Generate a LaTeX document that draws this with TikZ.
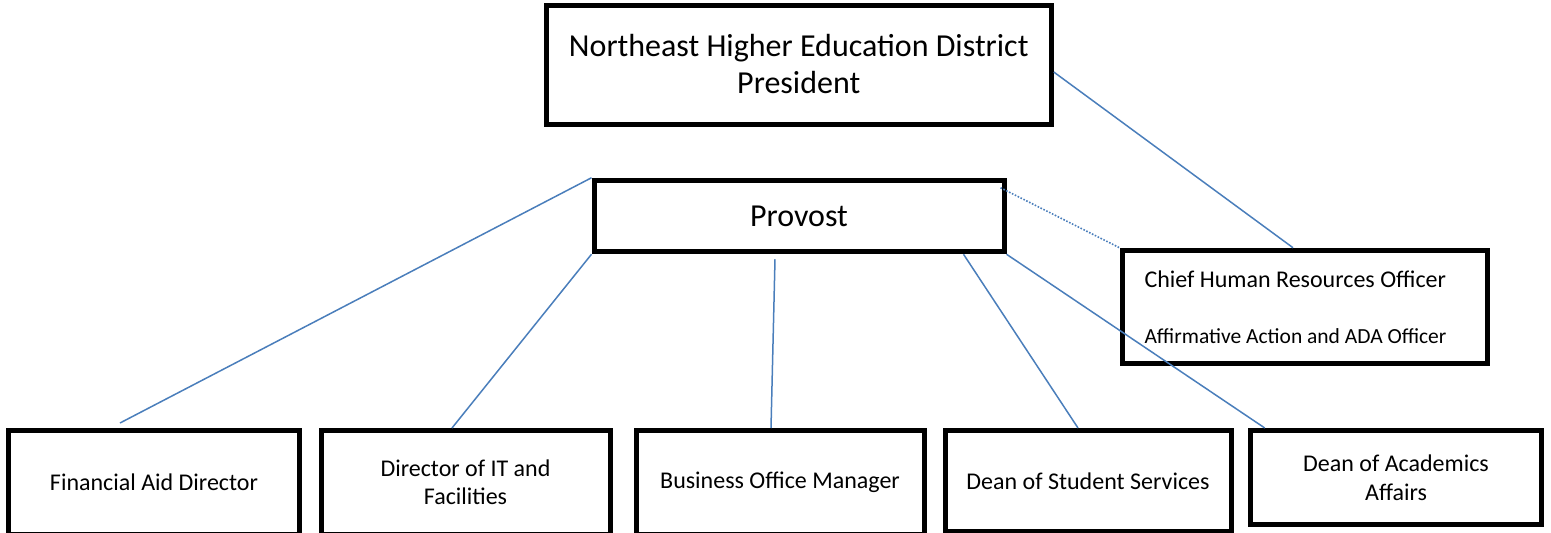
\documentclass[tikz,border=0pt]{standalone}
\usepackage{fontspec}
\setmainfont{Carlito}
\usepackage{tikz}
\usetikzlibrary{positioning}

\definecolor{linkblue}{RGB}{74,126,187}

\begin{document}
\begin{tikzpicture}[
    x=1pt, y=-1pt,
    box/.style={rectangle, draw=black, line width=5pt, align=center, inner sep=0pt},
    headbox/.style={box, font=\fontsize{32}{37}\selectfont},
    unitbox/.style={box, font=\fontsize{24}{28.5}\selectfont},
    link/.style={draw=linkblue, line width=1.5pt},
    dotlink/.style={draw=linkblue, line width=1.6pt, dash pattern=on 1.6pt off 1.6pt},
]
    \useasboundingbox (0,0) rectangle (1551,533);

    % Top
    \node[headbox, minimum width=505pt, minimum height=119pt] (pres) at (798.75,64.5) {Northeast Higher Education District\\President};
    \node[headbox, minimum width=410pt, minimum height=71.5pt] (provost) at (799,216) {Provost};

    % Human resources
    \node[box, minimum width=365pt, minimum height=113.5pt, text width=320pt, align=flush left, font=\fontsize{24}{56}\selectfont] (chro) at (1304.5,307)
        {Chief Human Resources Officer\\{\fontsize{21.5}{56}\selectfont Affirmative Action and ADA Officer}};

    % Bottom row
    \node[unitbox, minimum width=291pt, minimum height=103.5pt] (fad) at (154,482.25) {Financial Aid Director};
    \node[unitbox, minimum width=289pt, minimum height=103.5pt] (itf) at (465.5,482.25) {Director of IT and\\Facilities};
    \node[unitbox, minimum width=288pt, minimum height=103.5pt] (bom) at (780,482.25) {Business Office Manager};
    \node[unitbox, minimum width=286pt, minimum height=100.5pt] (dss) at (1088,480.75) {Dean of Student Services};
    \node[unitbox, minimum width=291.5pt, minimum height=94pt] (daa) at (1396,477.5) {Dean of Academics\\Affairs};

    % Links
    \draw[link] ([yshift=-7.5pt]pres.east) -- ([xshift=-11.5pt]chro.north);
    \draw[dotlink] ([xshift=-6pt,yshift=-10pt]provost.north east) -- (chro.north west);
    \draw[link] (provost.north west) -- ([xshift=-34pt,yshift=5pt]fad.north);
    \draw[link] (provost.south west) -- ([xshift=-13.5pt]itf.north);
    \draw[link] ([xshift=-24pt,yshift=-5pt]provost.south) -- ([xshift=-9pt]bom.north);
    \draw[link] ([xshift=-43pt]provost.south east) -- ([xshift=-10pt]dss.north);
    \draw[link] (provost.south east) -- ([xshift=17pt]daa.north west);
\end{tikzpicture}
\end{document}
